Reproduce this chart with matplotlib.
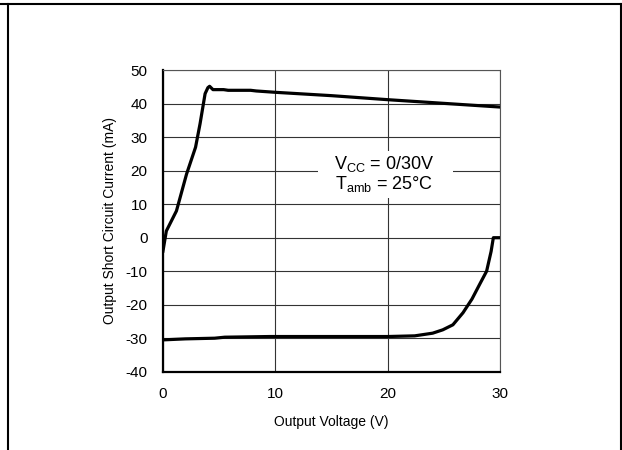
import matplotlib.pyplot as plt
from matplotlib.lines import Line2D
from matplotlib.patches import Rectangle

# data
source_v = [0, 0.3, 1.2, 2.1, 2.9, 3.3, 3.75, 4.0, 4.15, 4.45, 5.4, 5.8, 7.8, 8.3, 10, 15, 20, 25, 30]
source_i = [-4, 2, 8, 19, 27, 34, 43, 44.8, 45.2, 44.2, 44.2, 44.0, 44.0, 43.8, 43.4, 42.4, 41.2, 40.1, 39.0]

sink_v = [0, 2, 4.6, 5.5, 9.5, 20, 22.4, 24, 24.9, 25.8, 26.7, 27.5, 28.2, 28.8, 29.2, 29.4, 30]
sink_i = [-30.5, -30.2, -30.0, -29.7, -29.5, -29.5, -29.3, -28.5, -27.5, -26, -22.4, -18.3, -13.8, -10, -4.1, 0, 0]

xticks = [0, 10, 20, 30]
yticks = [-40, -30, -20, -10, 0, 10, 20, 30, 40, 50]

plt.rcParams['font.family'] = ['Liberation Sans', 'DejaVu Sans']
plt.rcParams['mathtext.fontset'] = 'custom'
plt.rcParams['mathtext.rm'] = 'Liberation Sans'
plt.rcParams['axes.unicode_minus'] = False

fig = plt.figure(figsize=(6.22, 4.5), dpi=100)
ax = fig.add_axes([0.262, 0.174, 0.542, 0.670])

ax.plot(source_v, source_i, color='black', lw=2.3, zorder=4, solid_joinstyle='round')
ax.plot(sink_v, sink_i, color='black', lw=2.3, zorder=4, solid_joinstyle='round')

ax.set_xlim(0, 30)
ax.set_ylim(-40, 50)
ax.set_xticks(xticks)
ax.set_yticks(yticks)
ax.tick_params(length=0, labelsize=11, pad=11)
ax.grid(True, color='#333333', lw=0.8)
ax.set_axisbelow(True)

for side in ['left', 'bottom']:
    ax.spines[side].set_linewidth(1.6)
    ax.spines[side].set_color('black')
for side in ['top', 'right']:
    ax.spines[side].set_linewidth(0.8)
    ax.spines[side].set_color('#555555')

ax.set_xlabel('Output Voltage (V)', fontsize=10, labelpad=10)
ax.set_ylabel('Output Short Circuit Current (mA)', fontsize=10, labelpad=6)

# white box behind the conditions text
ax.add_patch(Rectangle((13.8, 12.0), 12.0, 14.0, facecolor='white', edgecolor='none', zorder=2))
ax.text(19.7, 21.9, r'V$_{\mathrm{CC}}$ = 0/30V', fontsize=13, ha='center', va='center', zorder=3)
ax.text(19.7, 16.0, r'T$_{\mathrm{amb}}$ = 25°C', fontsize=13, ha='center', va='center', zorder=3)

# frame around the figure
fig.add_artist(Line2D([0, 1], [0.992, 0.992], color='black', lw=1.5, transform=fig.transFigure))
fig.add_artist(Line2D([0.0122, 0.0122], [0, 0.992], color='black', lw=1.5, transform=fig.transFigure))
fig.add_artist(Line2D([0.9976, 0.9976], [0, 0.992], color='black', lw=1.5, transform=fig.transFigure))

fig.savefig('out.png', dpi=100)
